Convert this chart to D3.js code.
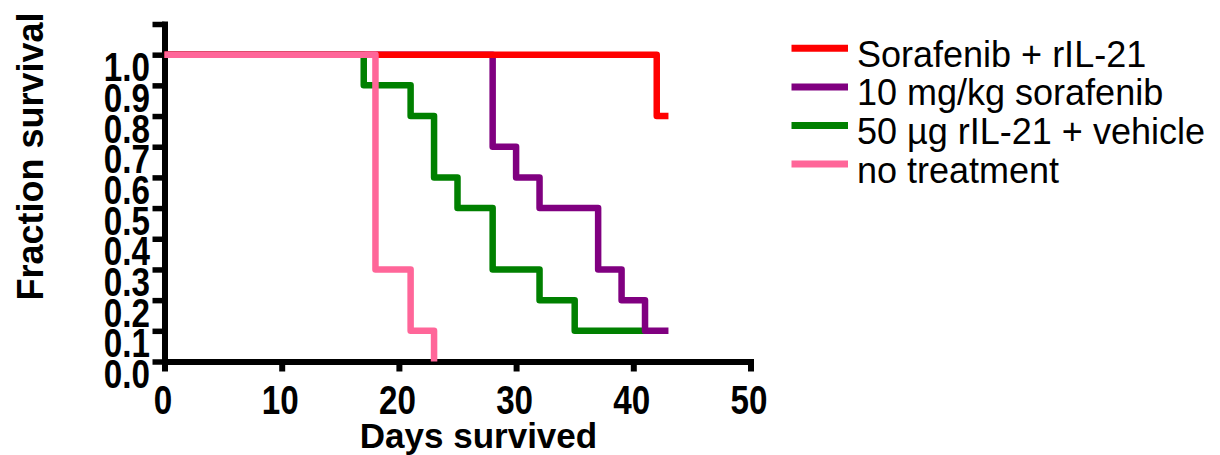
<!DOCTYPE html>
<html>
<head>
<meta charset="utf-8">
<script src="https://cdn.jsdelivr.net/npm/d3@7"></script>
<style>
  body { margin: 0; background: #fff; }
</style>
</head>
<body>
<div id="chart"></div>
<script>
// survival curves as [day, fraction] steps
var sorafenibIL21 = [[0, 1.0], [42, 0.8], [43, 0.8]];
var sorafenib10 = [[0, 1.0], [28, 0.7], [30, 0.6], [32, 0.5], [37, 0.3], [39, 0.2], [41, 0.1], [43, 0.1]];
var il21Vehicle = [[0, 1.0], [17, 0.9], [21, 0.8], [23, 0.6], [25, 0.5], [28, 0.3], [32, 0.2], [35, 0.1], [41, 0.1]];
var noTreatment = [[0, 1.0], [18, 0.3], [21, 0.1], [23, 0.0]];

var seriesNames = ["Sorafenib + rIL-21", "10 mg/kg sorafenib", "50 \u00b5g rIL-21 + vehicle", "no treatment"];
var seriesColors = ["#ff0000", "#800080", "#008000", "#ff6699"];
var seriesData = [sorafenibIL21, sorafenib10, il21Vehicle, noTreatment];
// drawing order, bottom to top
var drawOrder = [2, 1, 0, 3];

var xTicks = [0, 10, 20, 30, 40, 50];
var yTicks = [0, 0.1, 0.2, 0.3, 0.4, 0.5, 0.6, 0.7, 0.8, 0.9, 1.0, 1.1];

var font = "'Liberation Sans', Arial, Helvetica, sans-serif";

var svg = d3.select("#chart").append("svg")
            .attr("width", 1220)
            .attr("height", 455);

var x = d3.scaleLinear().domain([0, 50]).range([164.5, 750.5]);
var y = d3.scaleLinear().domain([0, 1.1]).range([361.5, 24]);

// x axis
var xAxis = svg.append("g")
               .attr("transform", "translate(0," + y(0) + ")")
               .call(d3.axisBottom(x).tickValues(xTicks).tickSize(10).tickSizeOuter(0).tickFormat(d3.format("d")));
xAxis.select(".domain").attr("stroke-width", 6).attr("stroke-linecap", "square");
xAxis.selectAll(".tick line").attr("stroke-width", 6);
xAxis.selectAll(".tick text")
     .attr("y", 52.5)
     .attr("dy", 0)
     .attr("transform", "translate(-2,0) scale(0.83,1)")
     .style("font-family", font)
     .style("font-weight", "bold")
     .style("font-size", "40px")
     .attr("fill", "#000");

// y axis
var yAxis = svg.append("g")
               .attr("transform", "translate(" + x(0) + ",0)")
               .call(d3.axisLeft(y).tickValues(yTicks).tickSize(12).tickSizeOuter(0)
                       .tickFormat(function (d) { return d > 1.05 ? "" : d3.format(".1f")(d); }));
yAxis.select(".domain").attr("stroke-width", 6).attr("stroke-linecap", "square");
yAxis.selectAll(".tick line").attr("stroke-width", 5.5);
yAxis.selectAll(".tick text")
     .attr("x", 0)
     .attr("dy", 0)
     .attr("y", 26)
     .attr("transform", "translate(-14.5,0) scale(0.83,1)")
     .style("font-family", font)
     .style("font-weight", "bold")
     .style("font-size", "40px")
     .attr("fill", "#000");

// curves
var line = d3.line()
             .x(function (d) { return x(d[0]); })
             .y(function (d) { return y(d[1]); })
             .curve(d3.curveStepAfter);

svg.selectAll(".curve")
   .data(drawOrder)
   .enter()
   .append("path")
   .attr("class", "curve")
   .attr("d", function (i) { return line(seriesData[i]); })
   .attr("fill", "none")
   .attr("stroke", function (i) { return seriesColors[i]; })
   .attr("stroke-width", 6.5)
   .attr("stroke-linejoin", "round");

// axis titles
svg.append("text")
   .attr("x", 478.5)
   .attr("y", 448)
   .attr("text-anchor", "middle")
   .style("font-family", font)
   .style("font-weight", "bold")
   .style("font-size", "35px")
   .text("Days survived");

svg.append("text")
   .attr("transform", "translate(43,156.5) rotate(-90)")
   .attr("text-anchor", "middle")
   .style("font-family", font)
   .style("font-weight", "bold")
   .style("font-size", "36px")
   .text("Fraction survival");

// legend
var legend = svg.selectAll(".legend")
                .data(seriesNames)
                .enter()
                .append("g")
                .attr("class", "legend")
                .attr("transform", function (d, i) { return "translate(0," + (48.3 + i * 38.6) + ")"; });

legend.append("line")
      .attr("x1", 791.5)
      .attr("x2", 848)
      .attr("y1", 0)
      .attr("y2", 0)
      .attr("stroke", function (d, i) { return seriesColors[i]; })
      .attr("stroke-width", 7);

legend.append("text")
      .attr("x", 857)
      .attr("y", 18.5)
      .style("font-family", font)
      .style("font-size", "36px")
      .text(function (d) { return d; });
</script>
</body>
</html>
